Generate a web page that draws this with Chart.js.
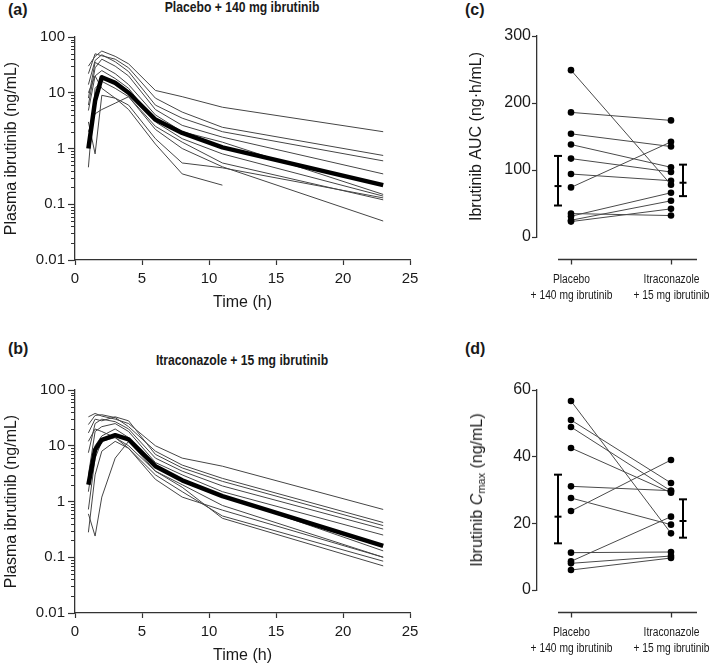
<!DOCTYPE html>
<html><head><meta charset="utf-8">
<script src="https://cdn.jsdelivr.net/npm/chart.js@4.4.0/dist/chart.umd.min.js"></script>
<style>
html,body{margin:0;padding:0;background:#fff;overflow:hidden;}
#wrap{position:relative;width:709px;height:665px;font-family:"Liberation Sans",Arial,sans-serif;color:#1a1a1a;}
canvas{position:absolute;display:block;}
.lbl{position:absolute;font-weight:bold;font-size:16px;line-height:16px;white-space:nowrap;}
.ttl{position:absolute;font-weight:bold;font-size:14px;line-height:14px;white-space:nowrap;transform:translateX(-50%) scaleX(0.87);}
.ytl{position:absolute;font-size:16px;line-height:16px;white-space:nowrap;transform:translate(-50%,-50%) rotate(-90deg);}
.ytl sub{font-size:11px;line-height:0;vertical-align:-3px;}
</style></head>
<body>
<div id="wrap">
  <div class="lbl" style="left:8px;top:2px;">(a)</div>
  <div class="ttl" style="left:242px;top:0px;">Placebo + 140 mg ibrutinib</div>
  <div class="lbl" style="left:465px;top:2px;">(c)</div>
  <div class="lbl" style="left:8px;top:341px;">(b)</div>
  <div class="ttl" style="left:242px;top:353px;">Itraconazole + 15 mg ibrutinib</div>
  <div class="lbl" style="left:465px;top:341px;">(d)</div>
  <canvas id="cA" width="460" height="330" style="left:0;top:0;width:460px;height:330px;"></canvas>
  <canvas id="cB" width="460" height="312" style="left:0;top:353px;width:460px;height:312px;"></canvas>
  <canvas id="cC" width="249" height="330" style="left:460px;top:0;width:249px;height:330px;"></canvas>
  <canvas id="cD" width="249" height="312" style="left:460px;top:353px;width:249px;height:312px;"></canvas>
  <div class="ytl" style="left:477px;top:490px;">Ibrutinib <i>C</i><sub>max</sub> (ng/mL)</div>
</div>
<script>
// ---------- DATA ----------
const timeH = [1, 1.5, 2, 3, 4, 6, 8, 11, 23];
const timeTicks = [0, 5, 10, 15, 20, 25];
const concTicks = [0.01, 0.1, 1, 10, 100];
const concTickLabels = ['0.01', '0.1', '1', '10', '100'];

// (a) Placebo + 140 mg ibrutinib: individual profiles (ng/mL) and mean
const placeboMean = [1.0, 7.2, 19, 15, 10, 3.3, 1.9, 1.05, 0.22];
const placeboProfiles = [
  [30, 45, 56, 45, 33, 11, 8.5, 5.5, 2.0],
  [22, 50, 46, 40, 28, 8, 4.5, 2.4, 0.75],
  [14, 38, 48, 36, 24, 6, 3.5, 2.0, 0.6],
  [6, 28, 40, 30, 20, 5, 2.6, 1.6, 0.35],
  [8, 35, 30, 22, 14, 4, 2.0, 1.3, 0.15],
  [4.8, 20, 25, 18, 12, 3, 1.5, 0.8, 0.14],
  [0.46, 12, 16, 12, 8.5, 2.5, 1.3, 0.55, 0.12],
  [2, 4.2, 5, 6.5, 8.5, 2.2, 1.0, 0.47, 0.05],
  [10, 20, 12, 8, 5, 1.2, 0.35, 0.22, null],
  [3, 0.8, 9, 8, 6, 1.5, 0.55, 0.45, 0.13]
];

// (b) Itraconazole + 15 mg ibrutinib
const itraMean = [2.0, 8.5, 12.8, 15.5, 13, 4.3, 2.4, 1.25, 0.16];
const itraProfiles = [
  [33, 38, 34, 30, 25, 10, 6, 4.3, 0.72],
  [24, 35, 36, 32, 22, 8, 4.5, 2.6, 0.42],
  [17, 30, 28, 33, 28, 7, 4, 2.3, 0.37],
  [7.5, 25, 30, 27, 20, 6, 3.5, 1.9, 0.32],
  [3, 18, 22, 25, 18, 5, 3, 1.5, 0.25],
  [1.5, 10, 15, 20, 14, 4.5, 2.5, 1.3, 0.13],
  [0.72, 6, 12, 14, 10, 3.5, 2, 0.85, 0.1],
  [0.28, 3, 8, 12, 9, 3, 1.5, 0.55, 0.085],
  [0.6, 0.24, 1.2, 6, 12, 3.5, 1.8, 0.5, 0.07],
  [12, 20, 18, 14, 9, 2.5, 1.2, 0.7, 0.1]
];

// (c) AUC paired
const groupLabels = [['Placebo', '+ 140 mg ibrutinib'], ['Itraconazole', '+ 15 mg ibrutinib']];
const aucPlacebo = [249, 186, 154, 138, 117, 94, 74, 35, 31, 25, 23];
const aucItra    = [78, 174, 135, 104, 97, 84, 142, 32, 66, 54, 42];
const aucMean = [76, 81];
const aucLow  = [47, 61];
const aucHigh = [121, 108];
const aucTicks = [0, 100, 200, 300];

// (d) Cmax paired
const cmaxPlacebo = [56.7, 51, 48.9, 42.6, 31.1, 27.6, 23.7, 11.2, 8.6, 8, 6];
const cmaxItra    = [17, 32.1, 29.7, 29.2, 29.8, 19.6, 39, 11.4, 22, 10.2, 9.6];
const cmaxMean = [22, 20.7];
const cmaxLow  = [14, 15.7];
const cmaxHigh = [34.6, 27.2];
const cmaxTicks = [0, 20, 40, 60];

// ---------- STYLE ----------
const TXT = '#1a1a1a';
const AX = '#333333';
Chart.defaults.font.family = '"Liberation Sans", Arial, sans-serif';
Chart.defaults.color = TXT;

const minorTicksPlugin = {
  id: 'minorTicks',
  afterDraw(chart) {
    const s = chart.scales.y, ctx = chart.ctx;
    ctx.save(); ctx.strokeStyle = AX; ctx.lineWidth = 1;
    for (let e = -2; e < 2; e++) {
      for (let k = 2; k <= 9; k++) {
        const y = Math.round(s.getPixelForValue(k * Math.pow(10, e))) + 0.5;
        ctx.beginPath(); ctx.moveTo(s.right - 4, y); ctx.lineTo(s.right, y); ctx.stroke();
      }
    }
    ctx.restore();
  }
};

const pairedAxisPlugin = {
  id: 'pairedAxis',
  afterDraw(chart, args, o) {
    const x = chart.scales.x, y = chart.scales.y, ctx = chart.ctx, ca = chart.chartArea;
    const seg = (x1, y1, x2, y2) => { ctx.beginPath(); ctx.moveTo(x1, y1); ctx.lineTo(x2, y2); ctx.stroke(); };
    ctx.save();
    // mean +/- error bars
    ctx.strokeStyle = '#000'; ctx.lineWidth = 2;
    o.mean.forEach((m, i) => {
      const px = Math.round(x.getPixelForValue(o.barPos[i]));
      const yl = y.getPixelForValue(o.low[i]), yh = y.getPixelForValue(o.high[i]), ym = y.getPixelForValue(m);
      seg(px, yl, px, yh);
      seg(px - 4, yl, px + 4, yl);
      seg(px - 4, yh, px + 4, yh);
      seg(px - 3.5, ym, px + 3.5, ym);
    });
    // offset category axis
    const ay = Math.round(ca.bottom + 22) + 0.5;
    ctx.strokeStyle = AX; ctx.lineWidth = 1.3;
    seg(x.getPixelForValue(o.axisStart), ay, ca.right, ay);
    ctx.fillStyle = TXT; ctx.textAlign = 'center'; ctx.textBaseline = 'middle';
    ctx.font = '12.5px "Liberation Sans", Arial, sans-serif';
    o.labels.forEach((lab, i) => {
      const px = Math.round(x.getPixelForValue(i)) + 0.5;
      seg(px, ay, px, ay + 5);
      lab.forEach((t, j) => {
        ctx.save(); ctx.translate(px, ay + 20 + j * 16); ctx.scale(0.82, 1); ctx.fillText(t, 0, 0); ctx.restore();
      });
    });
    ctx.restore();
  }
};

function profileChart(id, H, profiles, mean) {
  const datasets = [{
    data: timeH.map((t, i) => ({ x: t, y: mean[i] })),
    borderColor: '#000', borderWidth: 4.5, pointRadius: 0, borderJoinStyle: 'round'
  }];
  profiles.forEach(p => datasets.push({
    data: timeH.map((t, i) => ({ x: t, y: p[i] })),
    borderColor: '#454545', borderWidth: 1, pointRadius: 0, spanGaps: false
  }));
  return new Chart(document.getElementById(id), {
    type: 'line',
    data: { datasets },
    options: {
      responsive: false, animation: false, events: [],
      layout: { padding: { left: 0, top: 37, right: 50, bottom: 0 } },
      plugins: { legend: { display: false }, tooltip: { enabled: false } },
      scales: {
        x: {
          type: 'linear', min: 0, max: 25,
          afterBuildTicks: s => { s.ticks = timeTicks.map(v => ({ value: v })); },
          afterFit: s => { s.height = H - 260; },
          ticks: { font: { size: 15 }, color: TXT, padding: 5, maxRotation: 0, autoSkip: false, callback: v => String(v) },
          grid: { drawOnChartArea: false, tickLength: 5, color: AX, tickWidth: 1.2 },
          border: { display: true, color: AX, width: 1.3 },
          title: { display: true, text: 'Time (h)', font: { size: 16 }, color: TXT, padding: { top: 0, bottom: H > 320 ? 17.4 : 0 } }
        },
        y: {
          type: 'logarithmic', min: 0.01, max: 100,
          afterBuildTicks: s => { s.ticks = concTicks.map(v => ({ value: v })); },
          afterFit: s => { s.width = 75; },
          ticks: { font: { size: 15 }, color: TXT, padding: 3, autoSkip: false, callback: (v, i) => concTickLabels[i] },
          grid: { drawOnChartArea: false, tickLength: 7, color: AX, tickWidth: 1.2 },
          border: { display: true, color: AX, width: 1.3 },
          title: { display: true, text: 'Plasma ibrutinib (ng/mL)', font: { size: 16 }, color: TXT, padding: { top: 2.4, bottom: 0 } }
        }
      }
    },
    plugins: [minorTicksPlugin]
  });
}

function pairedChart(id, H, top, title, yTicks, before, after, mean, low, high) {
  const datasets = before.map((b, i) => ({
    data: [{ x: 0, y: b }, { x: 1, y: after[i] }],
    borderColor: '#4a4a4a', borderWidth: 1,
    pointRadius: 3.3, pointBackgroundColor: '#000', pointBorderColor: '#000', pointBorderWidth: 0
  }));
  return new Chart(document.getElementById(id), {
    type: 'line',
    data: { datasets },
    options: {
      responsive: false, animation: false, events: [],
      layout: { padding: { left: 0, top: top, right: 12, bottom: H - 237 } },
      plugins: {
        legend: { display: false }, tooltip: { enabled: false },
        pairedAxis: { mean, low, high, barPos: [-0.13, 1.12], axisStart: -0.13, labels: groupLabels }
      },
      scales: {
        x: { type: 'linear', min: -0.34, max: 1.26, display: false },
        y: {
          min: yTicks[0], max: yTicks[yTicks.length - 1],
          afterBuildTicks: s => { s.ticks = yTicks.map(v => ({ value: v })); },
          afterFit: s => { s.width = 77; },
          ticks: { font: { size: 16 }, color: TXT, padding: 1, autoSkip: false },
          grid: { drawOnChartArea: false, tickLength: 5, color: AX, tickWidth: 1.2 },
          border: { display: true, color: AX, width: 1.3 },
          title: { display: !!title, text: title || '', font: { size: 16 }, color: TXT, padding: { top: 7.4, bottom: 0 } }
        }
      }
    },
    plugins: [pairedAxisPlugin]
  });
}

profileChart('cA', 330, placeboProfiles, placeboMean);
profileChart('cB', 312, itraProfiles, itraMean);
pairedChart('cC', 330, 36, 'Ibrutinib AUC (ng\u00b7h/mL)', aucTicks, aucPlacebo, aucItra, aucMean, aucLow, aucHigh);
pairedChart('cD', 312, 37, '', cmaxTicks, cmaxPlacebo, cmaxItra, cmaxMean, cmaxLow, cmaxHigh);
</script>
</body></html>
